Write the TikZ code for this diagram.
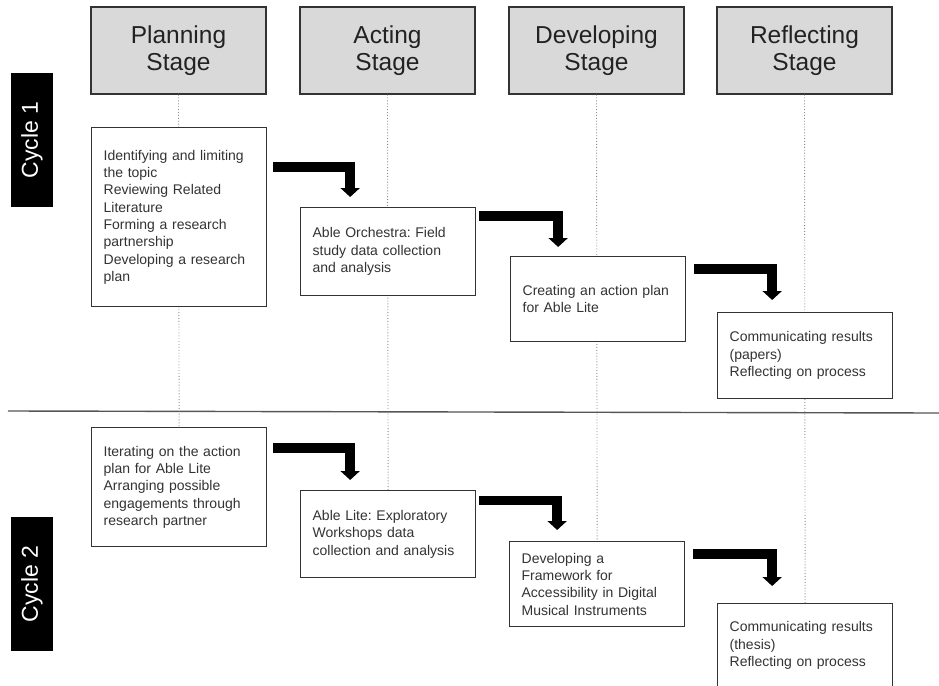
\documentclass[tikz,border=0pt]{standalone}
\usepackage{fontspec}
\setmainfont{Liberation Sans}
\usetikzlibrary{arrows.meta,calc}
\frenchspacing

\definecolor{headfill}{HTML}{D9D9D9}
\definecolor{edgecol}{HTML}{333333}
\definecolor{bodytext}{HTML}{333333}
\definecolor{headtext}{HTML}{222222}
\definecolor{guidecol}{HTML}{8A8A8A}
\definecolor{rulecol}{HTML}{555555}

\tikzset{
  stage/.style={draw=edgecol, line width=1.3pt, fill=headfill, minimum width=175pt,
    minimum height=87pt, align=center, inner sep=0pt, text=headtext,
    font=\fontsize{24.5}{27}\selectfont},
  task/.style={draw=edgecol, line width=1.3pt, fill=white, text width=151pt,
    inner xsep=12pt, inner ysep=0pt, align=left, anchor=north west, text=bodytext,
    font=\fontsize{14}{17.3}\selectfont},
  cyclelabel/.style={fill=black, text=white, rotate=90, minimum width=134pt,
    minimum height=42pt, inner sep=0pt, font=\fontsize{23}{23}\selectfont},
  guide/.style={draw=guidecol, dotted, line width=0.9pt},
  divider/.style={draw=rulecol, line width=1.4pt},
  flow/.style={line width=9.5pt, -{Triangle[width=19pt,length=9pt]}},
}

\begin{document}
\begin{tikzpicture}[x=1pt,y=-1pt]
\useasboundingbox (0,0) rectangle (939,685);
\clip (0,0) rectangle (939,685);

% stage headers
\node[stage] (H1) at (178.5,50.5) {Planning\\Stage};
\node[stage] (H2) at (387.5,50.5) {Acting\\Stage};
\node[stage] (H3) at (596.5,50.5) {Developing\\Stage};
\node[stage] (H4) at (804.5,50.5) {Reflecting\\Stage};

% cycle labels
\node[cyclelabel] (C1) at (32,140) {Cycle 1};
\node[cyclelabel] (C2) at (32,584) {Cycle 2};

% divider between the two cycles
\coordinate (divL) at (8,411);
\coordinate (divR) at (939,413);
\draw[divider] (divL) -- (divR);

% cycle 2 boxes
\node[task, minimum height=119pt] (P2) at (91,427) {Iterating on the action\\plan for Able Lite\\Arranging possible\\engagements through\\research partner};
\node[task, minimum height=87pt] (A2) at (300,490) {Able Lite: Exploratory\\Workshops data\\collection and analysis};
\node[task, minimum height=85pt] (D2) at (509,541) {Developing a\\Framework for\\Accessibility in Digital\\Musical Instruments};
\node[task, minimum height=84pt] (R2) at (717,603) {Communicating results\\(thesis)\\Reflecting on process};

% dotted stage guides, from each header down to its cycle 2 box
\draw[guide] (H1.south) -- (P2.north);
\draw[guide] (H2.south) -- (A2.north);
\draw[guide] (H3.south) -- (D2.north);
\draw[guide] (H4.south) -- (R2.north);

% cycle 1 boxes, drawn over the guides
\node[task, minimum height=179pt] (P1) at (91,127) {Identifying and limiting\\the topic\\Reviewing Related\\Literature\\Forming a research\\partnership\\Developing a research\\plan};
\node[task, minimum height=88pt] (A1) at (300,207) {Able Orchestra: Field\\study data collection\\and analysis};
\node[task, minimum height=85pt] (D1) at (510,256) {Creating an action plan\\for Able Lite};
\node[task, minimum height=86pt] (R1) at (717,312) {Communicating results\\(papers)\\Reflecting on process};

% flow arrows, cycle 1
\draw[flow] ($(P1.north east)+(6,40)$) -| ($(A1.north)+(-38,-10)$);
\draw[flow] ($(A1.north east)+(3,9)$) -| ($(D1.north)+(-40,-9)$);
\draw[flow] ($(D1.north east)+(8,13)$) -| ($(R1.north)+(-33,-12)$);

% flow arrows, cycle 2
\draw[flow] ($(P2.north east)+(6,21)$) -| ($(A2.north)+(-38,-10)$);
\draw[flow] ($(A2.north east)+(3,10.5)$) -| ($(D2.north)+(-40,-11)$);
\draw[flow] ($(D2.north east)+(8,13)$) -| ($(R2.north)+(-33,-17)$);
\end{tikzpicture}
\end{document}
